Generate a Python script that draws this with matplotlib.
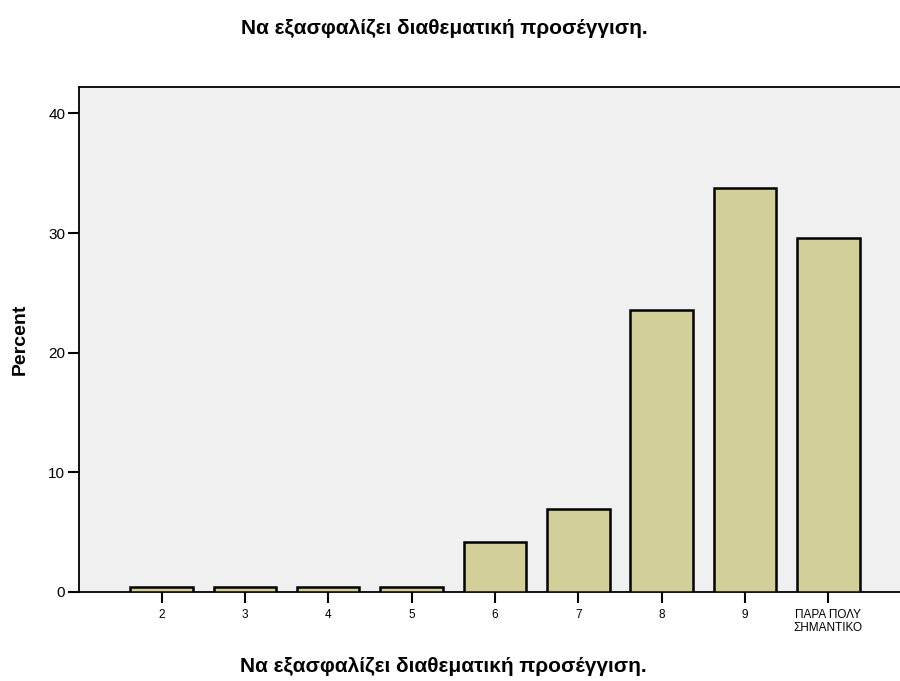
import matplotlib.pyplot as plt
import numpy as np

plt.rcParams['font.family'] = ['Liberation Sans', 'DejaVu Sans']

categories = ['2', '3', '4', '5', '6', '7', '8', '9', 'ΠΑΡΑ ΠΟΛΥ\nΣΗΜΑΝΤΙΚΟ']
percent = [0.4, 0.4, 0.4, 0.4, 4.2, 6.9, 23.6, 33.8, 29.6]
yticks = [0, 10, 20, 30, 40]
title = 'Να εξασφαλίζει διαθεματική προσέγγιση.'

fig = plt.figure(figsize=(9, 6.81), dpi=100)
ax = fig.add_axes([0.0878, 0.1307, 0.9122, 0.7413])
ax.set_facecolor('#F0F0F0')

x = np.arange(len(categories))
ax.bar(x, percent, width=0.75, color='#D3CF98', edgecolor='black', linewidth=1.8, zorder=3)

ax.set_xlim(-0.99, 8.86)
ax.set_ylim(0, 42.2)
ax.set_xticks(x)
ax.set_xticklabels(categories, fontsize=8.5)
ax.set_yticks(yticks)
ax.tick_params(axis='y', length=8, width=1.5, labelsize=11, pad=2)
ax.tick_params(axis='x', length=8, width=1.5, pad=4)

ax.spines['right'].set_visible(False)
for side in ['left', 'top', 'bottom']:
    ax.spines[side].set_linewidth(1.3)

ax.set_ylabel('Percent', fontsize=14, fontweight='bold', labelpad=14)
fig.text(0.493, 1 - 667 / 681, title, fontsize=15, fontweight='bold', ha='center', va='center')
fig.text(0.494, 1 - 28 / 681, title, fontsize=15, fontweight='bold', ha='center', va='center')

fig.savefig('out.png', dpi=100)
